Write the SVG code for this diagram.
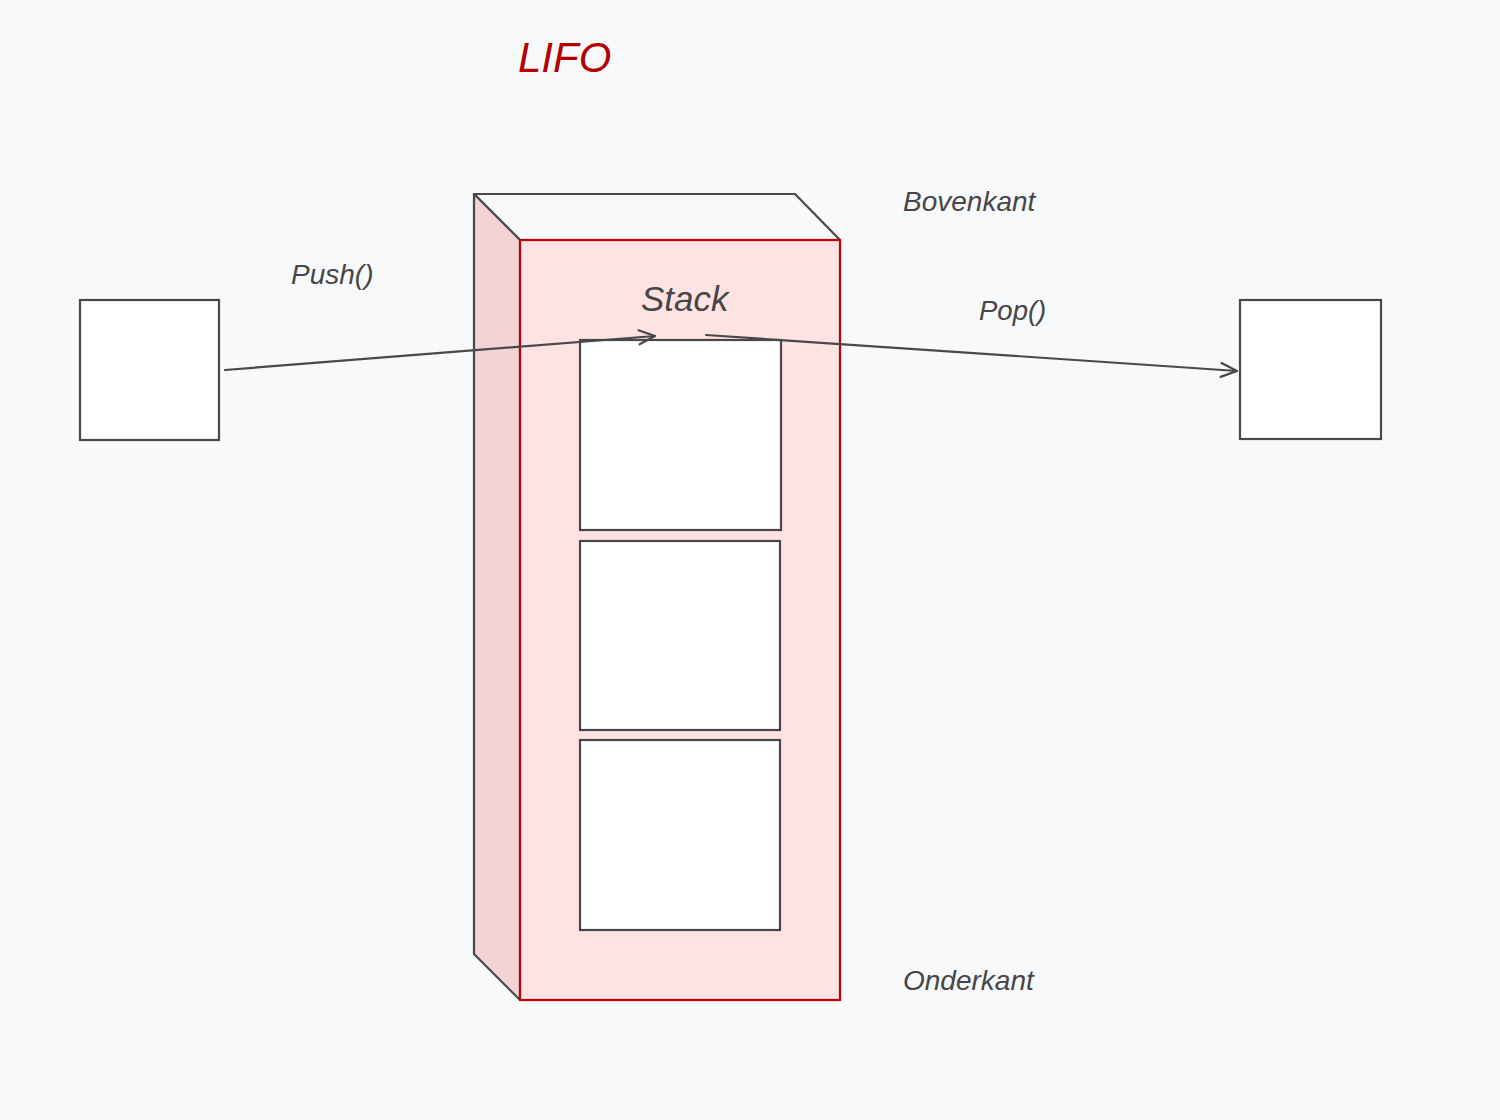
<svg xmlns="http://www.w3.org/2000/svg" width="1500" height="1120" viewBox="0 0 1500 1120">
<defs>
<style>
.lbl{font-family:"Liberation Sans",Arial,sans-serif;font-style:italic;fill:#464646}
.box{fill:#ffffff;stroke:#484848;stroke-width:2.2}
.edge{fill:none;stroke:#484848;stroke-width:2.2;stroke-linecap:round}
</style>
<marker id="arr" viewBox="0 0 20 20" refX="18" refY="10" markerWidth="20" markerHeight="20" markerUnits="userSpaceOnUse" orient="auto">
<path d="M2,3 L18,10 L2,17" fill="none" stroke="#484848" stroke-width="2.2" stroke-linecap="round" stroke-linejoin="round"/>
</marker>
</defs>
<rect width="1500" height="1120" fill="#f8f9fa"/>
<text class="lbl" x="518" y="72" font-size="42" style="fill:#b30000">LIFO</text>
<g id="stack">
<polygon points="474,194 795,194 840,240 520,240" fill="#f8f9fa" stroke="#484848" stroke-width="2.2" stroke-linejoin="round"/>
<polygon points="474,194 520,240 520,1000 474,954" fill="#f2d4d6" stroke="#484848" stroke-width="2.2" stroke-linejoin="round"/>
<rect x="520" y="240" width="320" height="760" fill="#ffe3e3" stroke="#c00000" stroke-width="2.2"/>
<text class="lbl" x="641" y="311" font-size="35">Stack</text>
</g>
<g id="item1"><rect class="box" x="580" y="340" width="201" height="190"/></g>
<g id="item2"><rect class="box" x="580" y="541" width="200" height="189"/></g>
<g id="item3"><rect class="box" x="580" y="740" width="200" height="190"/></g>
<g id="source"><rect class="box" x="80" y="300" width="139" height="140"/></g>
<g id="target"><rect class="box" x="1240" y="300" width="141" height="139"/></g>
<g id="labels">
<text class="lbl" x="903" y="211" font-size="28">Bovenkant</text>
<text class="lbl" x="903" y="990" font-size="28">Onderkant</text>
</g>
<g id="connectors">
<line class="edge" x1="225" y1="370" x2="655" y2="336" marker-end="url(#arr)"/>
<text class="lbl" x="291" y="284" font-size="28">Push()</text>
<line class="edge" x1="706" y1="335" x2="1237" y2="371" marker-end="url(#arr)"/>
<text class="lbl" x="979" y="320" font-size="27.5">Pop()</text>
</g>
</svg>
